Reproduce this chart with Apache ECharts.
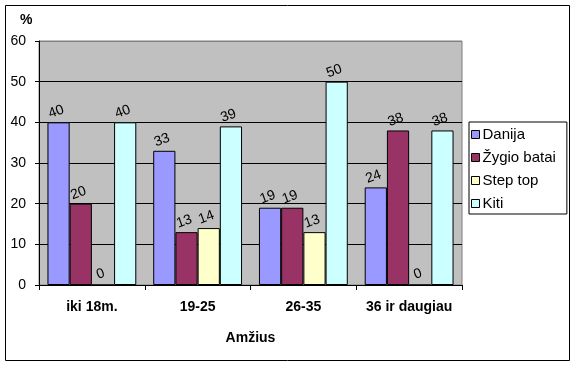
<!DOCTYPE html>
<html><head><meta charset="utf-8">
<script src="https://cdn.jsdelivr.net/npm/echarts@6/dist/echarts.min.js"></script>
<style>html,body{margin:0;padding:0;background:#fff}#c{width:576px;height:366px}</style>
</head><body><div id="c"></div>
<script>
const categories = ["iki 18m.", "19-25", "26-35", "36 ir daugiau"];
const seriesNames = ["Danija", "Žygio batai", "Step top", "Kiti"];
const danija = [40, 33, 19, 24];
const zygioBatai = [20, 13, 19, 38];
const stepTop = [0, 14, 13, 0];
const kiti = [40, 39, 50, 38];
const yTicks = [0, 10, 20, 30, 40, 50, 60];
const colors = ["#9999FF", "#993366", "#FFFFCC", "#CCFFFF"];
const values = [danija, zygioBatai, stepTop, kiti];

const chart = echarts.init(document.getElementById('c'), null, {renderer: 'canvas'});
const font = "'Liberation Sans', Arial, sans-serif";
chart.setOption({
  animation: false,
  backgroundColor: '#fff',
  graphic: [{
    type: 'rect', shape: {x: 5.5, y: 5.5, width: 564, height: 355},
    style: {fill: 'none', stroke: '#000', lineWidth: 1}, silent: true
  }, {
    type: 'text', left: 20, top: 13,
    style: {text: '%', font: 'bold 14px ' + font, fill: '#000'}
  }],
  grid: {left: 39, right: 114, top: 41, bottom: 81, show: true, backgroundColor: '#C0C0C0', borderColor: '#808080', borderWidth: 1},
  legend: {
    orient: 'vertical', left: 469, top: 122,
    data: seriesNames,
    itemWidth: 8, itemHeight: 8, itemGap: 8,
    icon: 'rect',
    padding: [5, 11, 3, 2],
    borderColor: '#000', borderWidth: 1, borderRadius: 0,
    backgroundColor: '#fff',
    textStyle: {fontFamily: font, fontSize: 15, color: '#000', padding: [0, 0, 0, -2]},
    itemStyle: {borderColor: '#000', borderWidth: 1}
  },
  xAxis: {
    type: 'category', data: categories,
    name: 'Amžius', nameLocation: 'middle', nameGap: 46,
    nameTextStyle: {fontFamily: font, fontSize: 14, fontWeight: 'bold', color: '#000'},
    axisLine: {lineStyle: {color: '#000'}},
    axisTick: {show: true, length: 5, lineStyle: {color: '#000'}},
    axisLabel: {interval: 0, fontFamily: font, fontSize: 14, fontWeight: 'bold', color: '#000', margin: 15}
  },
  yAxis: {
    type: 'value', min: 0, max: 60, interval: 10,
    axisLine: {show: true, lineStyle: {color: '#000'}},
    axisTick: {show: true, length: 4, lineStyle: {color: '#000'}},
    axisLabel: {fontFamily: font, fontSize: 14, color: '#000', margin: 13,
      formatter: v => yTicks.includes(v) ? String(v) : ''},
    splitLine: {show: true, lineStyle: {color: ['#000', '#000', '#000', '#000', '#000', '#000', '#808080'], width: 1}}
  },
  series: seriesNames.map((n, i) => ({
    name: n, type: 'bar', data: values[i],
    barGap: '0%', barCategoryGap: '16%',
    itemStyle: {color: colors[i], borderColor: '#000', borderWidth: 1},
    label: {show: true, position: 'top', rotate: 20, distance: 4,
      fontFamily: font, fontSize: 14, color: '#000'}
  }))
});
</script></body></html>
